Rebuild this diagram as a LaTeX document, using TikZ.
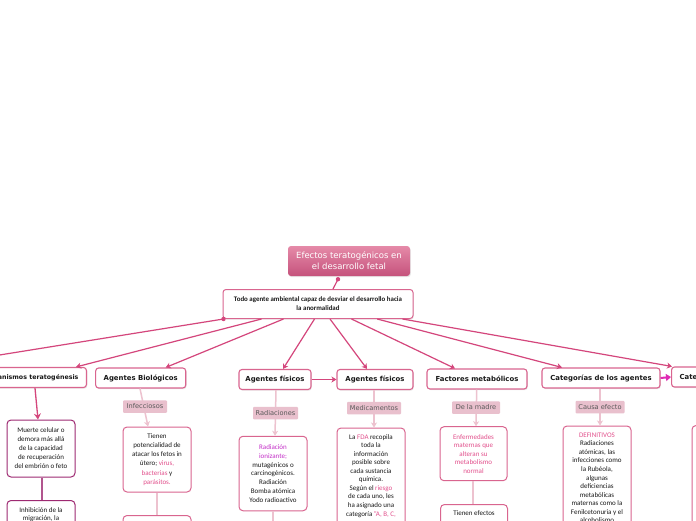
\documentclass[tikz,border=0pt]{standalone}
\usepackage{fontspec}
\setmainfont{Carlito}
\newfontfamily\hdrfont{DejaVu Sans}
\usetikzlibrary{arrows.meta,calc,shadows}
\definecolor{lnk}{HTML}{D4467C}
\definecolor{bord}{HTML}{D9658F}
\definecolor{liteclr}{HTML}{EDC2CF}
\definecolor{labclr}{HTML}{E9C0CD}
\definecolor{pk}{HTML}{E2508C}
\definecolor{mag}{HTML}{C42FC8}
\definecolor{purp}{HTML}{9E2A72}
\definecolor{arrm}{HTML}{E02AB4}
\definecolor{ttltop}{HTML}{E58AA8}
\definecolor{ttlbot}{HTML}{C5527C}
\tikzset{
 hdrbox/.style={draw=bord, line width=1.1pt, rounded corners=3pt, fill=white, minimum height=20pt, inner xsep=8pt, inner ysep=0pt,
   font=\hdrfont\bfseries\fontsize{6.9}{8}\selectfont, text=black!90,
   drop shadow={shadow xshift=0.8pt,shadow yshift=-1.2pt,opacity=0.18}},
 labbox/.style={fill=labclr, rounded corners=1pt, minimum height=12.5pt, inner xsep=2pt, inner ysep=0pt,
   font=\hdrfont\fontsize{6.6}{8}\selectfont, text=black!65},
 kidbox/.style={draw=bord, line width=1pt, rounded corners=4pt, fill=white, align=center, inner sep=0pt,
   font=\fontsize{7}{9}\selectfont, text=black!90},
 kidtext/.style={align=center, inner sep=0pt, font=\fontsize{7}{8.6}\selectfont, text=black!90, anchor=north},
 link/.style={draw=lnk, line width=1.2pt, -{Stealth[length=5pt,width=6pt,inset=1.5pt]}},
 plainlink/.style={draw=lnk, line width=1.2pt},
 liteline/.style={draw=liteclr, line width=1.5pt},
 litelink/.style={draw=liteclr, line width=1.5pt, -{Stealth[length=5pt,width=6pt,inset=1.5pt]}},
}
\begin{document}
\begin{tikzpicture}[x=1pt,y=-1pt]
\useasboundingbox (0,0) rectangle (696,520);
\clip (0,0) rectangle (696,520);
\fill[white] (0,0) rectangle (696,520);

% title and main
\node[rounded corners=3pt, top color=ttltop, bottom color=ttlbot, minimum width=122pt, minimum height=30pt, inner sep=0pt,
  align=center, text=white, font=\hdrfont\fontsize{8.5}{11}\selectfont,
  drop shadow={shadow xshift=0.8pt,shadow yshift=-1.2pt,opacity=0.18}] (title) at (349,261)
  {Efectos teratogénicos en\\el desarrollo fetal};
\node[draw=bord, line width=1pt, rounded corners=3pt, fill=white, minimum width=190pt, minimum height=29pt, inner sep=0pt,
  align=center, font=\bfseries\fontsize{6.9}{9}\selectfont, text=black!90,
  drop shadow={shadow xshift=0.8pt,shadow yshift=-1.2pt,opacity=0.15}] (main) at (318,304)
  {Todo agente ambiental capaz de desviar el desarrollo hacia\\la anormalidad};

% header row
\node[hdrbox, anchor=east, font=\hdrfont\bfseries\fontsize{6.3}{8}\selectfont] (mec) at (87,377.5) {Mecanismos teratogénesis};
\node[hdrbox, minimum width=90pt] (bio) at (140.7,378) {Agentes Biológicos};
\node[hdrbox, minimum width=72pt, inner xsep=4pt] (fis1) at (275,379.5) {Agentes físicos};
\node[hdrbox, minimum width=76pt] (fis2) at (375,379.5) {Agentes físicos};
\node[hdrbox, minimum width=100pt] (fac) at (477,379) {Factores metabólicos};
\node[hdrbox, minimum width=118pt] (cat) at (601,378) {Categorías de los agentes};
\node[hdrbox, anchor=west, text width=74pt, align=left] (cat2) at (671,377) {Cate};

% children
\node[kidbox, draw=purp, minimum width=68pt, minimum height=57pt] (mecA) at (41,448.5)
  {Muerte celular o\\demora más allá\\de la capacidad\\de recuperación\\del embrión o feto};
\node[kidbox, draw=purp, minimum width=68pt, minimum height=60pt] (mecB) at (41,530.5) {};
\node[kidtext] (mecBt) at (41,507) {Inhibición de la\\migración, la};

\node[kidbox, font=\fontsize{7}{9.2}\selectfont, minimum width=68pt, minimum height=65pt] (bioA) at (157,459.5)
  {Tienen\\potencialidad de\\atacar los fetos in\\útero; \textcolor{pk}{virus,}\\\textcolor{pk}{bacterias} y\\\textcolor{pk}{parásitos.}};
\node[kidbox, minimum width=68pt, minimum height=60pt] (bioB) at (157,545.5) {};

\node[kidbox, font=\fontsize{7}{8.9}\selectfont, minimum width=68pt, minimum height=74.5pt] (radA) at (273,473.5)
  {\textcolor{mag}{Radiación}\\\textcolor{mag}{ionizante;}\\mutagénicos o\\carcinogénicos.\\Radiación\\Bomba atómica\\Yodo radioactivo};
\coordinate (radEnd) at (273,530);

\node[kidbox, minimum width=68pt, minimum height=124pt] (medA) at (371,490) {};
\node[kidtext, font=\fontsize{7}{8.55}\selectfont] (medAt) at (371,434)
  {La \textcolor{pk}{FDA} recopila\\toda la\\información\\posible sobre\\cada sustancia\\química.\\Según el \textcolor{pk}{riesgo}\\de cada uno, les\\ha asignado una\\categoría \textcolor{pk}{"A, B, C,}};

\node[kidbox, font=\fontsize{7}{8.5}\selectfont, text=pk, minimum width=67pt, minimum height=54pt] (madA) at (473.5,453.7)
  {Enfermedades\\maternas que\\alteran su\\metabolismo\\normal};
\node[kidbox, minimum width=67pt, minimum height=60pt] (madB) at (474,534.5) {};
\node[kidtext] (madBt) at (474,510.5) {Tienen efectos};

\node[kidbox, minimum width=68pt, minimum height=130pt] (cauA) at (597,491) {};
\node[kidtext, font=\fontsize{7}{8.55}\selectfont] (cauAt) at (597,432.5)
  {\textcolor{pk}{DEFINITIVOS}\\Radiaciones\\atómicas, las\\infecciones como\\la Rubéola,\\algunas\\deficiencias\\metabólicas\\maternas como la\\Fenilcetonuria y el\\alcoholismo};

\node[kidbox, minimum width=68pt, minimum height=130pt] (farA) at (726,490.5) {};

% connectors from title and main
\coordinate (tdot) at ($(title.south)+(-11,3)$);
\draw[plainlink] (tdot) -- ($(main.north)+(15,0)$);
\fill[lnk] (tdot) circle (2.2pt);
\coordinate (mdot) at ($(main.south west)+(1,0)$);
\coordinate (offL) at (-100,371);
\draw[plainlink] (mdot) -- (offL);
\fill[lnk] (mdot) circle (2.2pt);
\draw[link] ($(main.south west)+(39,0)$) -- ($(mec.north east)+(-11,0)$);
\draw[link] ($(main.south west)+(61,0)$) -- ($(bio.north)+(25,0)$);
\draw[link] ($(main.south west)+(92,0)$) -- ($(fis1.north)+(8,0)$);
\draw[link] ($(main.south west)+(107.5,0)$) -- ($(fis2.north)+(-8,0)$);
\draw[link] ($(main.south west)+(129,0)$) -- ($(fac.north)+(-22,0)$);
\draw[link] ($(main.south west)+(154.7,0)$) -- ($(cat.north)+(-39,0)$);
\draw[link] ($(main.south west)+(180,0)$) -- ($(cat2.north west)+(1,0)$);

\draw[link] (fis1.east) -- (fis2.west);
\draw[draw=arrm, line width=2pt, -{Triangle[length=5pt,width=7pt]}] (cat.east) -- (cat2.west);

% mecanismos chain
\draw[draw=lnk, line width=1.3pt, -{Stealth[length=6pt,width=7pt,inset=2pt]}] ($(mec.south east)+(-52,0)$) -- ($(mecA.north)+(-3,0)$);
\draw[draw=purp!80, line width=1.2pt] ($(mecA.south)+(1,0)$) -- ($(mecB.north)+(1,0)$);

% light connectors through labels
\draw[litelink] ($(bio.south)+(-0.7,0)$) -- ($(bioA.north)+(-9,0)$);
\draw[liteline] (bioA.south) -- (bioB.north);
\draw[litelink] ($(fis1.south)+(1,0)$) -- ($(radA.north)+(2,0)$);
\draw[liteline] (radA.south) -- (radEnd);
\draw[litelink] ($(fis2.south)+(-1,0)$) -- ($(medA.north)+(3,0)$);
\draw[litelink] ($(fac.south)+(-0.3,0)$) -- ($(madA.north)+(2.5,0)$);
\draw[liteline] ($(madA.south)+(-0.5,0)$) -- ($(madB.north)+(-1,0)$);
\draw[litelink] ($(cat.south)+(-1,0)$) -- ($(cauA.north)+(3,0)$);

% labels
\node[labbox, minimum width=44pt] (infe) at (145,406.5) {Infecciosos};
\node[labbox, minimum width=45pt] (radi) at (275.5,413) {Radiaciones};
\node[labbox, minimum width=54pt] (medi) at (374,408) {Medicamentos};
\node[labbox, minimum width=48pt] (madre) at (476,407.5) {De la madre};
\node[labbox, minimum width=49pt] (causa) at (600,407) {Causa efecto};
\end{tikzpicture}
\end{document}
